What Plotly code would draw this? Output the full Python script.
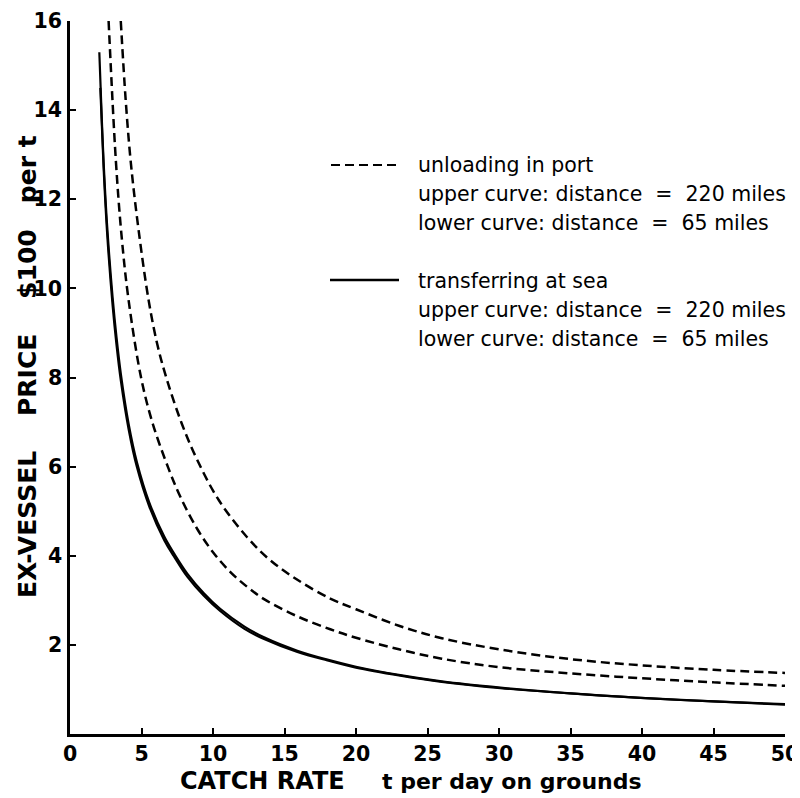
import plotly.graph_objects as go

# ---- data ----
port_220_x = [3.55, 3.9, 4.26, 4.8, 5.5, 6.1, 6.75, 7.8, 8.9, 10.4, 12.4, 14.0, 15.9, 18.2, 20.0, 23.0, 26.0, 30.0, 35.0, 40.0, 45.0, 50.0]
port_220_y = [16.0, 14.2, 12.8, 11.3, 9.73, 8.75, 7.98, 6.98, 6.15, 5.25, 4.41, 3.9, 3.46, 3.04, 2.80, 2.43, 2.15, 1.90, 1.68, 1.54, 1.44, 1.37]

port_65_x = [2.7, 3.2, 3.6, 4.1, 5.0, 5.8, 6.9, 7.75, 8.9, 10.0, 11.2, 12.4, 13.6, 15.9, 18.2, 20.0, 23.0, 26.0, 30.0, 35.0, 40.0, 45.0, 50.0]
port_65_y = [16.0, 12.9, 11.2, 9.73, 7.95, 6.95, 5.95, 5.3, 4.6, 4.08, 3.64, 3.30, 3.02, 2.64, 2.35, 2.16, 1.90, 1.69, 1.50, 1.36, 1.25, 1.16, 1.08]

sea_220_x = [2.05, 2.2, 2.35, 2.6, 2.98, 3.25, 3.56, 4.1, 4.68, 5.54, 6.59, 7.26, 8.2, 9.36, 10.5, 12.2, 13.57, 15.9, 18.0, 20.0, 23.1, 26.0, 30.1, 35.0, 39.9, 45.0, 50.0]
sea_220_y = [15.3, 14.0, 12.84, 11.39, 9.80, 8.91, 8.07, 6.96, 6.10, 5.20, 4.43, 4.06, 3.60, 3.16, 2.81, 2.41, 2.17, 1.87, 1.67, 1.51, 1.32, 1.18, 1.04, 0.91, 0.81, 0.73, 0.67]

sea_65_x = [2.12, 2.35, 2.6, 2.98, 3.25, 3.56, 4.1, 4.68, 5.54, 6.59, 7.26, 8.2, 9.36, 10.5, 12.2, 13.57, 15.9, 18.0, 20.0, 23.1, 26.0, 30.1, 35.0, 39.9, 45.0, 50.0]
sea_65_y = [14.5, 12.7, 11.22, 9.62, 8.74, 7.92, 6.84, 5.99, 5.11, 4.35, 3.99, 3.53, 3.10, 2.76, 2.36, 2.13, 1.84, 1.65, 1.49, 1.31, 1.17, 1.03, 0.91, 0.81, 0.73, 0.66]

x_ticks = [0, 5, 10, 15, 20, 25, 30, 35, 40, 45, 50]
y_ticks = [2, 4, 6, 8, 10, 12, 14, 16]

legend_port = ["unloading in port",
               "upper curve: distance\u00a0 = \u00a0220 miles",
               "lower curve: distance\u00a0 = \u00a065 miles"]
legend_sea = ["transferring at sea",
              "upper curve: distance\u00a0 = \u00a0220 miles",
              "lower curve: distance\u00a0 = \u00a065 miles"]

x_title_main = "CATCH RATE"
x_title_unit = "t per day on grounds"
y_title = "EX-VESSEL\u00a0\u00a0\u00a0\u00a0PRICE\u00a0\u00a0\u00a0\u00a0$100\u00a0\u00a0\u00a0per t"

# ---- figure ----
# the page body adds an 8 px offset; margins are set so the plot area lands
# on screen at x 69..785 and y 21..734
W, H = 800, 798
OFF = 8
ML, MT = 70 - OFF, 21 - OFF
PW, PH = 715, 713
MR, MB = W - ML - PW, H - MT - PH

def px_x(p):  # screen pixel -> paper
    return (p - OFF - ML) / PW

def px_y(p):
    return (MT + PH - (p - OFF)) / PH

fig = go.Figure()
dash_style = dict(color="black", width=2.5, dash="9px,5px")
solid_style = dict(color="black", width=2.2)

fig.add_trace(go.Scatter(x=port_220_x, y=port_220_y, mode="lines", line=dash_style, line_shape="spline", name="port 220"))
fig.add_trace(go.Scatter(x=port_65_x, y=port_65_y, mode="lines", line=dash_style, line_shape="spline", name="port 65"))
fig.add_trace(go.Scatter(x=sea_220_x, y=sea_220_y, mode="lines", line=solid_style, line_shape="spline", name="sea 220"))
fig.add_trace(go.Scatter(x=sea_65_x, y=sea_65_y, mode="lines", line=solid_style, line_shape="spline", name="sea 65"))

tick_font = dict(family="DejaVu Sans", size=20.5, color="black", weight="bold")
axis_common = dict(showline=True, linecolor="black", linewidth=2.5, ticks="inside",
                   ticklen=6, tickwidth=2, tickcolor="black", showgrid=False,
                   zeroline=False, tickfont=tick_font, automargin=False)

fig.update_layout(
    width=W, height=H,
    margin=dict(l=ML, r=MR, t=MT, b=MB),
    plot_bgcolor="white", paper_bgcolor="white",
    showlegend=False,
    xaxis=dict(range=[0, 50], tickvals=x_ticks, ticklabelstandoff=0, **axis_common),
    yaxis=dict(range=[0, 16], tickvals=y_ticks, ticklabelstandoff=1, **axis_common),
)

fig.add_annotation(text=x_title_main, xref="paper", yref="paper", x=px_x(263), y=px_y(781),
                   xanchor="center", yanchor="middle", showarrow=False,
                   font=dict(family="DejaVu Sans", size=24, color="black", weight="bold"))
fig.add_annotation(text=x_title_unit, xref="paper", yref="paper", x=px_x(512), y=px_y(781),
                   xanchor="center", yanchor="middle", showarrow=False,
                   font=dict(family="DejaVu Sans", size=22, color="black", weight="bold"))
fig.add_annotation(text=y_title, xref="paper", yref="paper", x=px_x(27), y=px_y(367),
                   xanchor="center", yanchor="middle", textangle=-90, showarrow=False,
                   font=dict(family="DejaVu Sans", size=25, color="black", weight="bold"))

# legend samples and text
fig.add_shape(type="line", xref="paper", yref="paper", x0=px_x(331), x1=px_x(399),
              y0=px_y(165), y1=px_y(165), line=dict(color="black", width=2.2, dash="9px,5px"))
fig.add_shape(type="line", xref="paper", yref="paper", x0=px_x(330), x1=px_x(399),
              y0=px_y(280), y1=px_y(280), line=dict(color="black", width=2.5))

leg_font = dict(family="DejaVu Sans", size=20.5, color="black")
for txt, yp in zip(legend_port, [165, 194, 223]):
    fig.add_annotation(text=txt, xref="paper", yref="paper", x=px_x(416), y=px_y(yp),
                       xanchor="left", yanchor="middle", showarrow=False, font=leg_font)
for txt, yp in zip(legend_sea, [281, 310, 339]):
    fig.add_annotation(text=txt, xref="paper", yref="paper", x=px_x(416), y=px_y(yp),
                       xanchor="left", yanchor="middle", showarrow=False, font=leg_font)

fig.write_html("out.html")
